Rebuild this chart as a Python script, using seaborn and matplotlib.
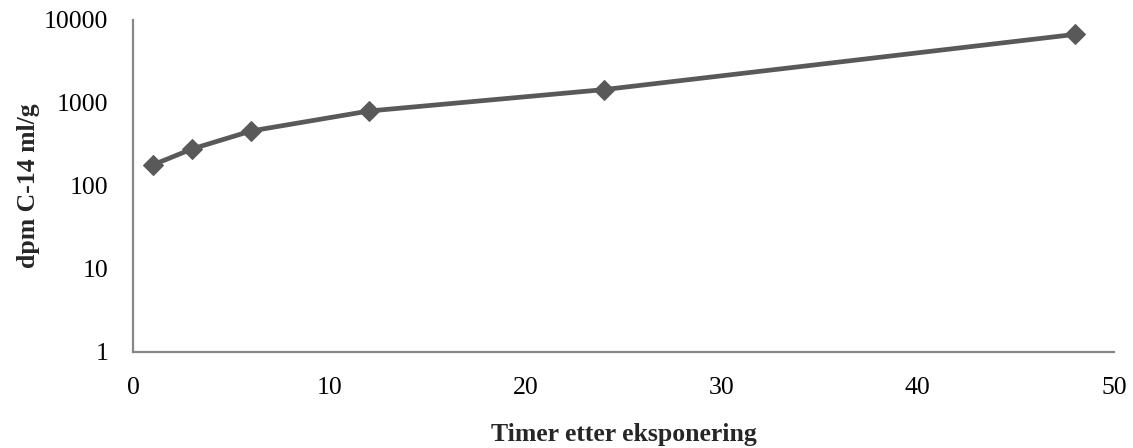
import matplotlib
matplotlib.use("Agg")
import matplotlib.pyplot as plt
import matplotlib.ticker as mticker
import seaborn as sns
import pandas as pd

# Measured activity over time after exposure
hours = [1, 3, 6, 12, 24, 48]
dpm = [180, 280, 460, 800, 1450, 6700]

x_ticks = [0, 10, 20, 30, 40, 50]
y_ticks = [1, 10, 100, 1000, 10000]

df = pd.DataFrame({"hours": hours, "dpm": dpm})

sns.set_style("white")
plt.rcParams["font.family"] = ["Liberation Serif", "DejaVu Serif"]

fig = plt.figure(figsize=(11.33, 4.48), dpi=100)
ax = fig.add_axes([0.1178, 0.2143, 0.9832 - 0.1178, 0.9554 - 0.2143])

line_color = "#595959"
sns.lineplot(data=df, x="hours", y="dpm", ax=ax, color=line_color,
             linewidth=3.4, marker="D", markersize=10,
             markeredgecolor=line_color, markerfacecolor=line_color)

ax.set_yscale("log")
ax.set_xlim(0, 50)
ax.set_ylim(1, 10000)
ax.set_xticks(x_ticks)
ax.set_yticks(y_ticks)
ax.yaxis.set_major_formatter(mticker.FuncFormatter(lambda v, p: f"{int(round(v))}"))
ax.yaxis.set_minor_locator(mticker.NullLocator())

ax.tick_params(axis="both", which="both", length=0, labelsize=18.5, colors="black")
ax.tick_params(axis="x", pad=18)
ax.tick_params(axis="y", pad=18)

for side in ["top", "right"]:
    ax.spines[side].set_visible(False)
for side in ["left", "bottom"]:
    ax.spines[side].set_color("#878787")
    ax.spines[side].set_linewidth(1.6)

ax.set_xlabel("Timer etter eksponering", fontsize=18.5, fontweight="bold", labelpad=17)
ax.set_ylabel("dpm C-14 ml/g", fontsize=18.5, fontweight="bold", labelpad=3)

fig.savefig("out.png", dpi=100)
